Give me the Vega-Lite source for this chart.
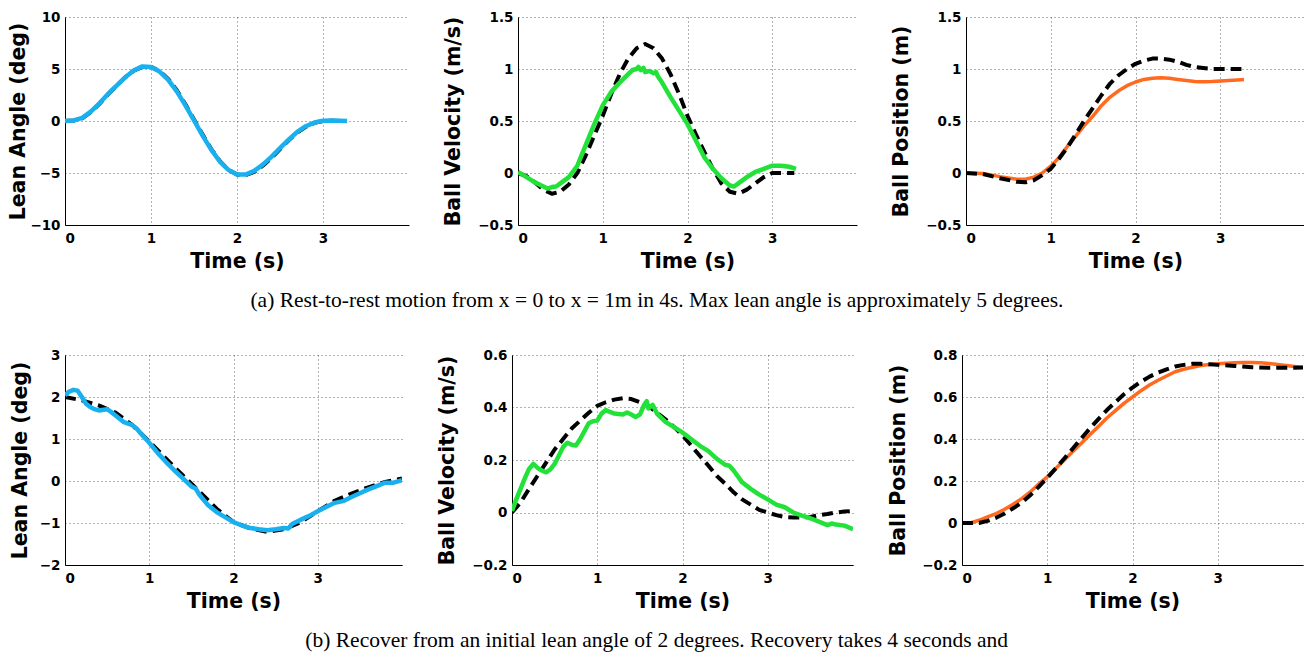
{
  "$schema": "https://vega.github.io/schema/vega-lite/v6.json",
  "background": "white",
  "padding": {"left": 8, "top": 10, "right": 0, "bottom": 0},
  "config": {
    "view": {"stroke": null},
    "font": "DejaVu Sans",
    "axis": {
      "labelFont": "DejaVu Sans", "labelFontWeight": "bold", "labelFontSize": 13.5, "labelColor": "black",
      "titleFont": "DejaVu Sans", "titleFontWeight": "bold", "titleFontSize": 20.5, "titleColor": "black",
      "domainColor": "black", "domainWidth": 1, "ticks": false,
      "grid": true, "gridColor": "#555555", "gridDash": [1, 3], "gridWidth": 1, "gridOpacity": 0.9,
      "format": "~r"
    },
    "axisX": {"labelPadding": 6, "titlePadding": 7},
    "axisY": {"labelPadding": 5, "titlePadding": 9},
    "title": {"font": "Liberation Serif", "fontSize": 21.5, "fontWeight": "normal", "color": "black", "orient": "bottom", "anchor": "middle", "offset": 18}
  },
  "datasets": {
    "p1r": [
      {"t":0,"v":0},{"t":0.1,"v":0.05},{"t":0.2,"v":0.25},{"t":0.3,"v":0.85},{"t":0.4,"v":1.65},{"t":0.5,"v":2.55},{"t":0.6,"v":3.4},{"t":0.7,"v":4.2},{"t":0.8,"v":4.85},{"t":0.9,"v":5.2},{"t":1.0,"v":5.2},{"t":1.1,"v":4.8},{"t":1.2,"v":4.05},{"t":1.3,"v":2.95},{"t":1.4,"v":1.6},{"t":1.5,"v":0.15},{"t":1.6,"v":-1.3},{"t":1.7,"v":-2.7},{"t":1.8,"v":-3.85},{"t":1.9,"v":-4.7},{"t":2.0,"v":-5.15},{"t":2.1,"v":-5.2},{"t":2.2,"v":-4.9},{"t":2.3,"v":-4.3},{"t":2.4,"v":-3.55},{"t":2.5,"v":-2.7},{"t":2.6,"v":-1.85},{"t":2.7,"v":-1.1},{"t":2.8,"v":-0.55},{"t":2.9,"v":-0.18},{"t":3.0,"v":0},{"t":3.1,"v":0.02},{"t":3.2,"v":0},{"t":3.25,"v":0}
    ],
    "p1m": [
      {"t":0,"v":0},{"t":0.1,"v":0.05},{"t":0.2,"v":0.3},{"t":0.3,"v":0.9},{"t":0.4,"v":1.7},{"t":0.5,"v":2.6},{"t":0.6,"v":3.4},{"t":0.7,"v":4.2},{"t":0.8,"v":4.85},{"t":0.9,"v":5.25},{"t":1.0,"v":5.2},{"t":1.1,"v":4.75},{"t":1.2,"v":3.95},{"t":1.3,"v":2.85},{"t":1.4,"v":1.5},{"t":1.5,"v":0.05},{"t":1.6,"v":-1.4},{"t":1.7,"v":-2.75},{"t":1.8,"v":-3.9},{"t":1.9,"v":-4.7},{"t":2.0,"v":-5.15},{"t":2.1,"v":-5.15},{"t":2.2,"v":-4.8},{"t":2.3,"v":-4.2},{"t":2.4,"v":-3.45},{"t":2.5,"v":-2.6},{"t":2.6,"v":-1.8},{"t":2.7,"v":-1.05},{"t":2.8,"v":-0.5},{"t":2.9,"v":-0.15},{"t":3.0,"v":0.02},{"t":3.1,"v":0.05},{"t":3.2,"v":0.02},{"t":3.28,"v":0}
    ],
    "p2r": [
      {"t":0,"v":0},{"t":0.1,"v":-0.03},{"t":0.2,"v":-0.09},{"t":0.3,"v":-0.16},{"t":0.4,"v":-0.2},{"t":0.5,"v":-0.18},{"t":0.6,"v":-0.11},{"t":0.7,"v":0.0},{"t":0.8,"v":0.17},{"t":0.9,"v":0.36},{"t":1.0,"v":0.55},{"t":1.1,"v":0.76},{"t":1.2,"v":0.95},{"t":1.3,"v":1.1},{"t":1.4,"v":1.2},{"t":1.5,"v":1.24},{"t":1.6,"v":1.2},{"t":1.7,"v":1.1},{"t":1.8,"v":0.95},{"t":1.9,"v":0.76},{"t":2.0,"v":0.55},{"t":2.1,"v":0.37},{"t":2.2,"v":0.2},{"t":2.3,"v":0.04},{"t":2.4,"v":-0.1},{"t":2.5,"v":-0.18},{"t":2.6,"v":-0.2},{"t":2.7,"v":-0.16},{"t":2.8,"v":-0.1},{"t":2.9,"v":-0.04},{"t":3.0,"v":0},{"t":3.1,"v":0},{"t":3.26,"v":0}
    ],
    "p2m": [
      {"t":0,"v":0.01},{"t":0.1,"v":-0.04},{"t":0.2,"v":-0.09},{"t":0.3,"v":-0.13},{"t":0.35,"v":-0.15},{"t":0.4,"v":-0.135},{"t":0.45,"v":-0.13},{"t":0.5,"v":-0.1},{"t":0.6,"v":-0.04},{"t":0.7,"v":0.07},{"t":0.8,"v":0.27},{"t":0.9,"v":0.47},{"t":1.0,"v":0.65},{"t":1.1,"v":0.78},{"t":1.2,"v":0.87},{"t":1.3,"v":0.95},{"t":1.35,"v":0.99},{"t":1.4,"v":1.0},{"t":1.42,"v":1.02},{"t":1.45,"v":0.99},{"t":1.48,"v":1.01},{"t":1.5,"v":0.97},{"t":1.55,"v":0.98},{"t":1.6,"v":0.96},{"t":1.63,"v":0.97},{"t":1.65,"v":0.93},{"t":1.7,"v":0.87},{"t":1.8,"v":0.73},{"t":1.9,"v":0.6},{"t":2.0,"v":0.47},{"t":2.1,"v":0.31},{"t":2.2,"v":0.15},{"t":2.3,"v":0.04},{"t":2.4,"v":-0.05},{"t":2.5,"v":-0.12},{"t":2.55,"v":-0.13},{"t":2.6,"v":-0.1},{"t":2.7,"v":-0.04},{"t":2.8,"v":0.01},{"t":2.9,"v":0.04},{"t":3.0,"v":0.07},{"t":3.1,"v":0.07},{"t":3.2,"v":0.06},{"t":3.28,"v":0.04}
    ],
    "p3r": [
      {"t":0,"v":0},{"t":0.2,"v":-0.01},{"t":0.4,"v":-0.05},{"t":0.6,"v":-0.085},{"t":0.7,"v":-0.09},{"t":0.8,"v":-0.07},{"t":0.9,"v":-0.02},{"t":1.0,"v":0.04},{"t":1.1,"v":0.14},{"t":1.2,"v":0.25},{"t":1.3,"v":0.38},{"t":1.4,"v":0.51},{"t":1.5,"v":0.63},{"t":1.6,"v":0.75},{"t":1.7,"v":0.86},{"t":1.8,"v":0.94},{"t":1.9,"v":1.0},{"t":2.0,"v":1.05},{"t":2.1,"v":1.08},{"t":2.2,"v":1.1},{"t":2.3,"v":1.1},{"t":2.4,"v":1.09},{"t":2.5,"v":1.07},{"t":2.6,"v":1.04},{"t":2.7,"v":1.02},{"t":2.8,"v":1.01},{"t":2.9,"v":1.0},{"t":3.0,"v":1.0},{"t":3.1,"v":1.0},{"t":3.25,"v":1.0}
    ],
    "p3m": [
      {"t":0,"v":0},{"t":0.2,"v":-0.005},{"t":0.4,"v":-0.035},{"t":0.6,"v":-0.06},{"t":0.7,"v":-0.06},{"t":0.8,"v":-0.04},{"t":0.9,"v":0},{"t":1.0,"v":0.065},{"t":1.1,"v":0.15},{"t":1.2,"v":0.26},{"t":1.3,"v":0.36},{"t":1.4,"v":0.46},{"t":1.5,"v":0.55},{"t":1.6,"v":0.65},{"t":1.7,"v":0.73},{"t":1.8,"v":0.79},{"t":1.9,"v":0.84},{"t":2.0,"v":0.875},{"t":2.1,"v":0.9},{"t":2.2,"v":0.91},{"t":2.3,"v":0.915},{"t":2.4,"v":0.91},{"t":2.5,"v":0.9},{"t":2.6,"v":0.89},{"t":2.7,"v":0.88},{"t":2.8,"v":0.878},{"t":2.9,"v":0.88},{"t":3.0,"v":0.885},{"t":3.1,"v":0.89},{"t":3.2,"v":0.895},{"t":3.28,"v":0.9}
    ],
    "p4r": [
      {"t":0,"v":2.0},{"t":0.2,"v":1.92},{"t":0.4,"v":1.8},{"t":0.6,"v":1.63},{"t":0.8,"v":1.33},{"t":1.0,"v":0.94},{"t":1.2,"v":0.53},{"t":1.4,"v":0.13},{"t":1.6,"v":-0.26},{"t":1.8,"v":-0.66},{"t":2.0,"v":-0.98},{"t":2.2,"v":-1.13},{"t":2.4,"v":-1.21},{"t":2.6,"v":-1.15},{"t":2.8,"v":-0.98},{"t":3.0,"v":-0.72},{"t":3.2,"v":-0.47},{"t":3.4,"v":-0.3},{"t":3.6,"v":-0.15},{"t":3.8,"v":-0.02},{"t":4.0,"v":0.06}
    ],
    "p4m": [
      {"t":0,"v":2.04},{"t":0.05,"v":2.13},{"t":0.1,"v":2.17},{"t":0.15,"v":2.15},{"t":0.2,"v":2.0},{"t":0.25,"v":1.84},{"t":0.3,"v":1.76},{"t":0.35,"v":1.71},{"t":0.4,"v":1.68},{"t":0.5,"v":1.71},{"t":0.55,"v":1.64},{"t":0.6,"v":1.56},{"t":0.7,"v":1.4},{"t":0.8,"v":1.33},{"t":0.85,"v":1.25},{"t":0.9,"v":1.13},{"t":1.0,"v":0.91},{"t":1.1,"v":0.67},{"t":1.2,"v":0.45},{"t":1.3,"v":0.25},{"t":1.4,"v":0.06},{"t":1.5,"v":-0.13},{"t":1.55,"v":-0.18},{"t":1.6,"v":-0.34},{"t":1.7,"v":-0.58},{"t":1.8,"v":-0.74},{"t":1.9,"v":-0.86},{"t":2.0,"v":-0.98},{"t":2.1,"v":-1.06},{"t":2.2,"v":-1.12},{"t":2.3,"v":-1.15},{"t":2.4,"v":-1.17},{"t":2.5,"v":-1.15},{"t":2.6,"v":-1.12},{"t":2.65,"v":-1.13},{"t":2.7,"v":-1.02},{"t":2.8,"v":-0.92},{"t":2.9,"v":-0.83},{"t":3.0,"v":-0.72},{"t":3.1,"v":-0.62},{"t":3.2,"v":-0.52},{"t":3.3,"v":-0.48},{"t":3.4,"v":-0.38},{"t":3.5,"v":-0.29},{"t":3.6,"v":-0.2},{"t":3.7,"v":-0.12},{"t":3.8,"v":-0.04},{"t":3.9,"v":-0.04},{"t":4.0,"v":0.02}
    ],
    "p5r": [
      {"t":0,"v":0},{"t":0.1,"v":0.038},{"t":0.2,"v":0.09},{"t":0.3,"v":0.14},{"t":0.4,"v":0.19},{"t":0.5,"v":0.24},{"t":0.6,"v":0.28},{"t":0.7,"v":0.32},{"t":0.8,"v":0.35},{"t":0.9,"v":0.38},{"t":1.0,"v":0.406},{"t":1.1,"v":0.42},{"t":1.2,"v":0.43},{"t":1.3,"v":0.435},{"t":1.4,"v":0.432},{"t":1.5,"v":0.42},{"t":1.6,"v":0.406},{"t":1.7,"v":0.38},{"t":1.8,"v":0.355},{"t":1.9,"v":0.326},{"t":2.0,"v":0.294},{"t":2.1,"v":0.256},{"t":2.2,"v":0.217},{"t":2.3,"v":0.18},{"t":2.4,"v":0.14},{"t":2.5,"v":0.11},{"t":2.6,"v":0.077},{"t":2.7,"v":0.05},{"t":2.8,"v":0.03},{"t":2.9,"v":0.01},{"t":3.0,"v":0},{"t":3.1,"v":-0.01},{"t":3.2,"v":-0.017},{"t":3.3,"v":-0.019},{"t":3.4,"v":-0.019},{"t":3.5,"v":-0.017},{"t":3.6,"v":-0.01},{"t":3.7,"v":-0.006},{"t":3.8,"v":0},{"t":3.9,"v":0.004},{"t":4.0,"v":0.006}
    ],
    "p5m": [
      {"t":0,"v":0.006},{"t":0.05,"v":0.05},{"t":0.1,"v":0.09},{"t":0.15,"v":0.13},{"t":0.2,"v":0.166},{"t":0.25,"v":0.185},{"t":0.3,"v":0.17},{"t":0.35,"v":0.16},{"t":0.4,"v":0.153},{"t":0.45,"v":0.164},{"t":0.5,"v":0.185},{"t":0.55,"v":0.217},{"t":0.6,"v":0.25},{"t":0.65,"v":0.266},{"t":0.7,"v":0.258},{"t":0.75,"v":0.255},{"t":0.8,"v":0.28},{"t":0.85,"v":0.31},{"t":0.9,"v":0.34},{"t":0.95,"v":0.348},{"t":1.0,"v":0.35},{"t":1.05,"v":0.377},{"t":1.1,"v":0.39},{"t":1.15,"v":0.383},{"t":1.2,"v":0.377},{"t":1.3,"v":0.373},{"t":1.35,"v":0.381},{"t":1.4,"v":0.373},{"t":1.45,"v":0.364},{"t":1.5,"v":0.373},{"t":1.55,"v":0.41},{"t":1.58,"v":0.424},{"t":1.6,"v":0.396},{"t":1.65,"v":0.41},{"t":1.7,"v":0.377},{"t":1.8,"v":0.345},{"t":1.9,"v":0.325},{"t":2.0,"v":0.305},{"t":2.1,"v":0.28},{"t":2.2,"v":0.255},{"t":2.3,"v":0.235},{"t":2.4,"v":0.205},{"t":2.5,"v":0.182},{"t":2.55,"v":0.178},{"t":2.6,"v":0.16},{"t":2.7,"v":0.115},{"t":2.8,"v":0.09},{"t":2.9,"v":0.068},{"t":3.0,"v":0.05},{"t":3.1,"v":0.03},{"t":3.2,"v":0.02},{"t":3.3,"v":0.0},{"t":3.4,"v":-0.012},{"t":3.5,"v":-0.022},{"t":3.6,"v":-0.035},{"t":3.7,"v":-0.048},{"t":3.75,"v":-0.042},{"t":3.8,"v":-0.046},{"t":3.9,"v":-0.05},{"t":4.0,"v":-0.064}
    ],
    "p6r": [
      {"t":0,"v":0},{"t":0.2,"v":0},{"t":0.3,"v":0.01},{"t":0.4,"v":0.025},{"t":0.5,"v":0.045},{"t":0.6,"v":0.07},{"t":0.7,"v":0.097},{"t":0.8,"v":0.132},{"t":0.9,"v":0.172},{"t":1.0,"v":0.215},{"t":1.1,"v":0.26},{"t":1.2,"v":0.307},{"t":1.3,"v":0.355},{"t":1.4,"v":0.403},{"t":1.5,"v":0.45},{"t":1.6,"v":0.495},{"t":1.7,"v":0.538},{"t":1.8,"v":0.576},{"t":1.9,"v":0.613},{"t":2.0,"v":0.645},{"t":2.1,"v":0.673},{"t":2.2,"v":0.697},{"t":2.3,"v":0.716},{"t":2.4,"v":0.732},{"t":2.5,"v":0.745},{"t":2.6,"v":0.753},{"t":2.7,"v":0.758},{"t":2.8,"v":0.758},{"t":2.9,"v":0.756},{"t":3.0,"v":0.753},{"t":3.2,"v":0.748},{"t":3.4,"v":0.742},{"t":3.6,"v":0.739},{"t":3.8,"v":0.739},{"t":4.0,"v":0.74}
    ],
    "p6m": [
      {"t":0,"v":0},{"t":0.1,"v":0},{"t":0.2,"v":0.013},{"t":0.3,"v":0.029},{"t":0.4,"v":0.045},{"t":0.5,"v":0.065},{"t":0.6,"v":0.089},{"t":0.7,"v":0.116},{"t":0.8,"v":0.148},{"t":0.9,"v":0.185},{"t":1.0,"v":0.22},{"t":1.1,"v":0.26},{"t":1.2,"v":0.3},{"t":1.3,"v":0.34},{"t":1.4,"v":0.38},{"t":1.5,"v":0.42},{"t":1.6,"v":0.46},{"t":1.7,"v":0.5},{"t":1.8,"v":0.535},{"t":1.9,"v":0.57},{"t":2.0,"v":0.6},{"t":2.1,"v":0.63},{"t":2.2,"v":0.657},{"t":2.3,"v":0.68},{"t":2.4,"v":0.7},{"t":2.5,"v":0.72},{"t":2.6,"v":0.732},{"t":2.7,"v":0.742},{"t":2.8,"v":0.75},{"t":2.9,"v":0.755},{"t":3.0,"v":0.758},{"t":3.1,"v":0.761},{"t":3.2,"v":0.763},{"t":3.3,"v":0.764},{"t":3.4,"v":0.764},{"t":3.5,"v":0.763},{"t":3.6,"v":0.76},{"t":3.7,"v":0.755},{"t":3.8,"v":0.75},{"t":3.9,"v":0.745},{"t":4.0,"v":0.74}
    ]
  },
  "concat": [
    {
      "title": {"text": "(a) Rest-to-rest motion from x = 0 to x = 1m in 4s. Max lean angle is approximately 5 degrees."},
      "spacing": 34,
      "hconcat": [
        {
          "width": 344, "height": 208,
          "encoding": {
            "x": {"field": "t", "type": "quantitative", "scale": {"domain": [0, 4], "nice": false}, "axis": {"title": "Time (s)", "values": [0, 1, 2, 3]}},
            "y": {"field": "v", "type": "quantitative", "scale": {"domain": [-10, 10], "nice": false}, "axis": {"title": "Lean Angle (deg)", "values": [-10, -5, 0, 5, 10], "titlePadding": 1}}
          },
          "layer": [
            {"data": {"name": "p1r"}, "mark": {"type": "line", "clip": true, "strokeJoin": "round", "color": "black", "strokeWidth": 4, "strokeDash": [11, 6]}},
            {"data": {"name": "p1m"}, "mark": {"type": "line", "clip": true, "strokeJoin": "round", "color": "#19b0f0", "strokeWidth": 4.5}}
          ]
        },
        {
          "width": 339, "height": 208,
          "encoding": {
            "x": {"field": "t", "type": "quantitative", "scale": {"domain": [0, 4], "nice": false}, "axis": {"title": "Time (s)", "values": [0, 1, 2, 3]}},
            "y": {"field": "v", "type": "quantitative", "scale": {"domain": [-0.5, 1.5], "nice": false}, "axis": {"title": "Ball Velocity (m/s)", "values": [-0.5, 0, 0.5, 1, 1.5], "titlePadding": 14}}
          },
          "layer": [
            {"data": {"name": "p2r"}, "mark": {"type": "line", "clip": true, "strokeJoin": "round", "color": "black", "strokeWidth": 4, "strokeDash": [11, 6]}},
            {"data": {"name": "p2m"}, "mark": {"type": "line", "clip": true, "strokeJoin": "round", "color": "#22e23a", "strokeWidth": 4.5}}
          ]
        },
        {
          "width": 339, "height": 208,
          "encoding": {
            "x": {"field": "t", "type": "quantitative", "scale": {"domain": [0, 4], "nice": false}, "axis": {"title": "Time (s)", "values": [0, 1, 2, 3]}},
            "y": {"field": "v", "type": "quantitative", "scale": {"domain": [-0.5, 1.5], "nice": false}, "axis": {"title": "Ball Position (m)", "values": [-0.5, 0, 0.5, 1, 1.5], "titlePadding": 14}}
          },
          "layer": [
            {"data": {"name": "p3m"}, "mark": {"type": "line", "clip": true, "strokeJoin": "round", "color": "#ff6a1f", "strokeWidth": 3.5}},
            {"data": {"name": "p3r"}, "mark": {"type": "line", "clip": true, "strokeJoin": "round", "color": "black", "strokeWidth": 4, "strokeDash": [11, 6]}}
          ]
        }
      ]
    },
    {
      "title": {"text": "(b) Recover from an initial lean angle of 2 degrees. Recovery takes 4 seconds and"},
      "spacing": 35,
      "hconcat": [
        {
          "width": 337, "height": 210,
          "encoding": {
            "x": {"field": "t", "type": "quantitative", "scale": {"domain": [0, 4], "nice": false}, "axis": {"title": "Time (s)", "values": [0, 1, 2, 3]}},
            "y": {"field": "v", "type": "quantitative", "scale": {"domain": [-2, 3], "nice": false}, "axis": {"title": "Lean Angle (deg)", "values": [-2, -1, 0, 1, 2, 3], "titlePadding": 9}}
          },
          "layer": [
            {"data": {"name": "p4r"}, "mark": {"type": "line", "clip": true, "strokeJoin": "round", "color": "black", "strokeWidth": 4, "strokeDash": [11, 6]}},
            {"data": {"name": "p4m"}, "mark": {"type": "line", "clip": true, "strokeJoin": "round", "color": "#19b0f0", "strokeWidth": 4.5}}
          ]
        },
        {
          "width": 341, "height": 210,
          "encoding": {
            "x": {"field": "t", "type": "quantitative", "scale": {"domain": [0, 4], "nice": false}, "axis": {"title": "Time (s)", "values": [0, 1, 2, 3]}},
            "y": {"field": "v", "type": "quantitative", "scale": {"domain": [-0.2, 0.6], "nice": false}, "axis": {"title": "Ball Velocity (m/s)", "values": [-0.2, 0, 0.2, 0.4, 0.6], "titlePadding": 14}}
          },
          "layer": [
            {"data": {"name": "p5r"}, "mark": {"type": "line", "clip": true, "strokeJoin": "round", "color": "black", "strokeWidth": 4, "strokeDash": [11, 6]}},
            {"data": {"name": "p5m"}, "mark": {"type": "line", "clip": true, "strokeJoin": "round", "color": "#22e23a", "strokeWidth": 4.5}}
          ]
        },
        {
          "width": 341, "height": 210,
          "encoding": {
            "x": {"field": "t", "type": "quantitative", "scale": {"domain": [0, 4], "nice": false}, "axis": {"title": "Time (s)", "values": [0, 1, 2, 3]}},
            "y": {"field": "v", "type": "quantitative", "scale": {"domain": [-0.2, 0.8], "nice": false}, "axis": {"title": "Ball Position (m)", "values": [-0.2, 0, 0.2, 0.4, 0.6, 0.8], "titlePadding": 13}}
          },
          "layer": [
            {"data": {"name": "p6m"}, "mark": {"type": "line", "clip": true, "strokeJoin": "round", "color": "#ff6a1f", "strokeWidth": 3.5}},
            {"data": {"name": "p6r"}, "mark": {"type": "line", "clip": true, "strokeJoin": "round", "color": "black", "strokeWidth": 4, "strokeDash": [11, 6]}}
          ]
        }
      ]
    }
  ],
  "columns": 1,
  "bounds": "full",
  "align": "none",
  "spacing": 36
}
